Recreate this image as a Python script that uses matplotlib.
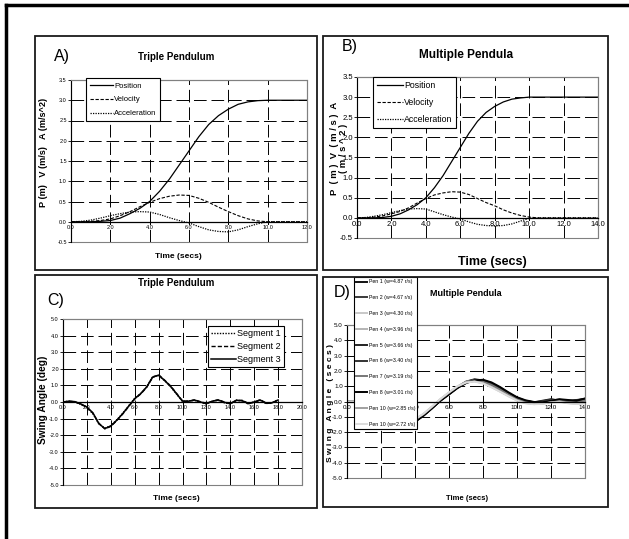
import matplotlib
matplotlib.use('Agg')
import matplotlib.pyplot as plt
import matplotlib.ticker as mticker
from matplotlib.patches import Rectangle
from matplotlib.lines import Line2D

# ---- data ----
t_a = [0, 0.5, 1, 1.5, 2, 2.5, 3, 3.5, 4, 4.5, 5, 5.5, 6, 6.5, 7, 7.5, 8, 8.5, 9, 9.5,
       10, 10.5, 11, 11.5, 12]
pos_a = [0, 0.0, 0.0, 0.01, 0.03, 0.09, 0.2, 0.33, 0.5, 0.75, 1.05, 1.4, 1.75, 2.1, 2.4,
         2.62, 2.78, 2.9, 2.96, 2.99, 3.0, 3.0, 3.0, 3.0, 3.0]
vel_a = [0, 0.0, 0.01, 0.03, 0.07, 0.15, 0.25, 0.37, 0.48, 0.57, 0.63, 0.66, 0.65, 0.58,
         0.48, 0.36, 0.25, 0.15, 0.07, 0.02, 0.0, 0.0, 0.0, 0.0, 0.0]
acc_a = [0, 0.01, 0.04, 0.09, 0.15, 0.2, 0.24, 0.25, 0.24, 0.18, 0.1, 0.03, -0.03, -0.12,
         -0.2, -0.24, -0.25, -0.2, -0.12, -0.05, 0.0, 0.0, 0.0, 0.0, 0.0]

t_b = [0, 0.5, 1, 1.5, 2, 2.5, 3, 3.5, 4, 4.5, 5, 5.5, 6, 6.5, 7, 7.5, 8, 8.5, 9, 9.5,
       10, 10.5, 11, 11.5, 12, 12.5, 13, 13.5, 14]
pos_b = [0, 0.0, 0.0, 0.01, 0.04, 0.1, 0.2, 0.33, 0.5, 0.75, 1.05, 1.4, 1.75, 2.1, 2.4,
         2.62, 2.77, 2.88, 2.95, 2.98, 3.0, 3.0, 3.0, 3.0, 3.0, 3.0, 3.0, 3.0, 3.0]
vel_b = [0, 0.0, 0.02, 0.05, 0.1, 0.16, 0.25, 0.37, 0.48, 0.57, 0.62, 0.65, 0.64, 0.58,
         0.48, 0.38, 0.3, 0.2, 0.12, 0.06, 0.02, 0.0, 0.0, 0.0, 0.0, 0.0, 0.0, 0.0, 0.0]
acc_b = [0, 0.01, 0.04, 0.08, 0.13, 0.18, 0.22, 0.23, 0.22, 0.15, 0.08, 0.02, -0.03, -0.1,
         -0.16, -0.19, -0.2, -0.19, -0.15, -0.08, -0.01, 0.0, 0.0, 0.0, 0.0, 0.0, 0.0, 0.0, 0.0]

t_c = [0, 0.5, 1, 1.5, 2, 2.5, 3, 3.5, 4, 4.5, 5, 5.5, 6, 6.5, 7, 7.5, 8, 8.5, 9, 9.5,
       10, 10.5, 11, 11.5, 12, 12.5, 13, 13.5, 14, 14.5, 15, 15.5, 16, 16.5, 17, 17.5, 18]
seg1 = [0, 0.04, 0.0, -0.15, -0.35, -0.7, -1.32, -1.58, -1.42, -1.08,
        -0.68, -0.22, 0.22, 0.52, 0.92, 1.52, 1.6, 1.28, 0.92, 0.48,
        0.04, 0.06, 0.1, -0.02, -0.12, 0.06, 0.1, -0.05, -0.12, 0.12,
        0.06, -0.12, 0.02, 0.1, -0.1, -0.03, 0.1]
seg2 = [0, 0.05, 0.01, -0.13, -0.32, -0.68, -1.28, -1.62, -1.47, -1.12,
        -0.72, -0.27, 0.18, 0.48, 0.88, 1.48, 1.64, 1.32, 0.97, 0.52,
        0.06, 0.03, 0.13, 0.02, -0.08, 0.04, 0.14, 0.0, -0.08, 0.08,
        0.1, -0.08, -0.02, 0.14, -0.06, -0.07, 0.14]
seg3 = [0, 0.05, 0.02, -0.12, -0.3, -0.65, -1.3, -1.6, -1.45, -1.1,
        -0.7, -0.25, 0.2, 0.5, 0.9, 1.5, 1.62, 1.3, 0.95, 0.5,
        0.05, 0.05, 0.12, 0.0, -0.1, 0.05, 0.12, -0.02, -0.1, 0.1,
        0.08, -0.1, 0.0, 0.12, -0.08, -0.05, 0.12]

t_d = t_b
pen_labels = ['Pen 1 (w=4.87 r/s)', 'Pen 2 (w=4.67 r/s)', 'Pen 3 (w=4.30 r/s)',
              'Pen 4 (w=3.96 r/s)', 'Pen 5 (w=3.66 r/s)', 'Pen 6 (w=3.40 r/s)',
              'Pen 7 (w=3.19 r/s)', 'Pen 8 (w=3.01 r/s)', 'Pen 10 (w=2.85 r/s)',
              'Pen 10 (w=2.72 r/s)']
pen_colors = ['#111111', '#3a3a3a', '#c8c8c8', '#b4b4b4', '#222222', '#333333',
              '#777777', '#000000', '#a0a0a0', '#dcdcdc']
pen1 = [0, 0.02, -0.05, -0.3, -0.6, -0.95, -1.25, -1.4, -1.3, -0.9,
        -0.42, 0.08, 0.5, 0.95, 1.3, 1.45, 1.38, 1.15, 0.85, 0.5,
        0.2, 0.02, -0.05, 0.05, 0.15, 0.05, -0.05, 0.1, 0.15]
pen2 = [0, 0.02, -0.06, -0.28, -0.58, -0.92, -1.22, -1.38, -1.28, -0.88,
        -0.4, 0.1, 0.52, 0.92, 1.28, 1.42, 1.35, 1.12, 0.82, 0.48,
        0.18, 0.0, -0.08, 0.0, 0.12, 0.08, -0.02, 0.05, 0.12]
pen3 = [0, 0.02, -0.04, -0.25, -0.55, -0.9, -1.18, -1.32, -1.22, -0.85,
        -0.38, 0.12, 0.55, 0.95, 1.28, 1.38, 1.25, 1.0, 0.72, 0.42,
        0.12, -0.05, -0.12, -0.1, 0.0, 0.05, -0.05, -0.1, -0.05]
pen4 = [0, 0.01, -0.04, -0.24, -0.53, -0.88, -1.16, -1.3, -1.2, -0.83,
        -0.36, 0.14, 0.57, 0.97, 1.27, 1.35, 1.22, 0.97, 0.7, 0.4,
        0.1, -0.08, -0.15, -0.12, -0.02, 0.02, -0.08, -0.12, -0.08]
pen5 = [0, 0.02, -0.06, -0.3, -0.62, -0.97, -1.27, -1.42, -1.32, -0.92,
        -0.44, 0.06, 0.48, 0.9, 1.22, 1.4, 1.4, 1.2, 0.9, 0.55,
        0.25, 0.05, -0.05, -0.02, 0.08, 0.12, 0.05, 0.08, 0.18]
pen6 = [0, 0.02, -0.05, -0.29, -0.6, -0.95, -1.25, -1.4, -1.3, -0.9,
        -0.43, 0.07, 0.49, 0.91, 1.24, 1.42, 1.38, 1.17, 0.88, 0.52,
        0.22, 0.03, -0.06, 0.02, 0.1, 0.1, 0.0, 0.06, 0.14]
pen7 = [0, 0.02, -0.05, -0.27, -0.57, -0.92, -1.2, -1.35, -1.25, -0.87,
        -0.39, 0.11, 0.53, 0.93, 1.26, 1.38, 1.3, 1.08, 0.78, 0.45,
        0.15, -0.03, -0.1, -0.05, 0.05, 0.06, -0.04, -0.02, 0.05]
pen8 = [0, 0.02, -0.06, -0.31, -0.63, -0.98, -1.28, -1.43, -1.33, -0.93,
        -0.45, 0.05, 0.46, 0.88, 1.2, 1.38, 1.42, 1.25, 0.95, 0.6,
        0.28, 0.08, -0.03, -0.05, 0.05, 0.15, 0.1, 0.05, 0.2]
pen9 = [0, 0.01, -0.04, -0.23, -0.52, -0.86, -1.14, -1.28, -1.18, -0.82,
        -0.35, 0.15, 0.58, 0.98, 1.25, 1.32, 1.2, 0.95, 0.66, 0.36,
        0.08, -0.1, -0.17, -0.14, -0.05, 0.0, -0.1, -0.15, -0.1]
pen10 = [0, 0.01, -0.04, -0.22, -0.5, -0.84, -1.12, -1.26, -1.16, -0.8,
         -0.33, 0.17, 0.6, 1.0, 1.24, 1.3, 1.18, 0.93, 0.64, 0.34,
         0.06, -0.12, -0.18, -0.15, -0.06, -0.02, -0.12, -0.16, -0.12]
pens = [pen1, pen2, pen3, pen4, pen5, pen6, pen7, pen8, pen9, pen10]

# ---- figure ----
W, H = 629, 539
fig = plt.figure(figsize=(W / 100, H / 100), dpi=100)
sans = ['Liberation Sans', 'DejaVu Sans']
dash = (0, (13, 5))


def px_axes(l, t, r, b):
    return fig.add_axes([l / W, 1 - b / H, (r - l) / W, (b - t) / H])


def ftext(x, y, s, **kw):
    kw.setdefault('ha', 'center')
    kw.setdefault('va', 'center')
    kw.setdefault('family', sans)
    fig.text(x / W, 1 - y / H, s, **kw)


def box(l, t, r, b):
    fig.add_artist(Rectangle((l / W, 1 - b / H), (r - l) / W, (b - t) / H,
                             transform=fig.transFigure, fill=False,
                             ec='#1a1a1a', lw=1.3))


def style(ax, xmax, xstep, ymin, ymax, ystep, fs):
    ax.set_xlim(0, xmax)
    ax.set_ylim(ymin, ymax)
    ax.xaxis.set_major_locator(mticker.MultipleLocator(xstep))
    ax.yaxis.set_major_locator(mticker.MultipleLocator(ystep))
    ax.xaxis.set_major_formatter(mticker.FormatStrFormatter('%.1f'))
    ax.yaxis.set_major_formatter(mticker.FormatStrFormatter('%.1f'))
    ax.grid(True, color='k', lw=0.7, ls=dash)
    ax.spines['bottom'].set_position(('data', 0))
    ax.spines['bottom'].set_linewidth(0.9)
    ax.spines['left'].set_linewidth(0.8)
    for s in ['top', 'right']:
        ax.spines[s].set_color('#808080')
    ax.add_patch(Rectangle((0, 0), 1, 1, transform=ax.transAxes, fill=False,
                           ec='#808080', lw=0.8, clip_on=False, zorder=0.5))
    ax.tick_params(axis='x', direction='inout', length=3, width=0.6, pad=1,
                   labelsize=fs)
    ax.tick_params(axis='y', direction='out', length=2, width=0.6, pad=1,
                   labelsize=fs)
    for lab in ax.get_xticklabels() + ax.get_yticklabels():
        lab.set_family(sans)


def legend(ax, x, y, size, **kw):
    leg = ax.legend(loc='upper left', bbox_to_anchor=(x / W, 1 - y / H),
                    bbox_transform=fig.transFigure, fancybox=False,
                    edgecolor='k', framealpha=1,
                    prop={'family': sans, 'size': size}, borderaxespad=0, **kw)
    leg.get_frame().set_linewidth(0.8)


# outer frame
fig.add_artist(Line2D([6 / W, 6 / W], [0, 1 - 5 / H], lw=2.5, color='k'))
fig.add_artist(Line2D([6 / W, 1], [1 - 5 / H, 1 - 5 / H], lw=2.5, color='k'))

# panel boxes
box(35, 36, 317, 270)
box(323, 36, 608, 270)
box(35, 275, 317, 508)
box(323, 277, 608, 507)

# ---- A ----
ax = px_axes(71, 80, 307, 242)
style(ax, 12, 2, -0.5, 3.5, 0.5, 4)
ax.plot(t_a, pos_a, color='k', lw=0.9, label='Position')
ax.plot(t_a, vel_a, color='k', lw=0.8, ls=(0, (3, 1.5)), label='Velocity')
ax.plot(t_a, acc_a, color='k', lw=0.9, ls=(0, (1, 1)), label='Acceleration')
legend(ax, 86, 78, 5.5, handlelength=3.0, handletextpad=0.1,
       labelspacing=0.85, borderpad=0.55)
ftext(62, 56, 'A)', fontsize=11.5)
ftext(176, 57, 'Triple Pendulum', fontsize=7, weight='bold')
ftext(43, 152, 'P (m)   V (m/s)   A (m/s^2)', fontsize=6.6,
      weight='bold', rotation=90)
ftext(178, 257, 'Time (secs)', fontsize=6, weight='bold')

# ---- B ----
ax = px_axes(357, 77, 598, 238)
style(ax, 14, 2, -0.5, 3.5, 0.5, 5.5)
ax.plot(t_b, pos_b, color='k', lw=0.9, label='Position')
ax.plot(t_b, vel_b, color='k', lw=0.8, ls=(0, (3, 1.5)), label='Velocity')
ax.plot(t_b, acc_b, color='k', lw=0.9, ls=(0, (1, 1)), label='Acceleration')
legend(ax, 373, 77, 6.3, handlelength=3.0, handletextpad=0.1,
       labelspacing=0.9, borderpad=0.45)
ftext(350, 46, 'B)', fontsize=11.5)
ftext(466, 55, 'Multiple Pendula', fontsize=8.5, weight='bold')
ftext(339, 148, 'P  ( m )  V  ( m / s )  A\n( m / s ^ 2 )', fontsize=6.8,
      weight='bold', rotation=90, linespacing=0.95, multialignment='center')
ftext(492, 262, 'Time (secs)', fontsize=9, weight='bold')

# ---- C ----
ax = px_axes(63, 319, 302, 485)
style(ax, 20, 2, -5, 5, 1, 4)
ax.plot(t_c, seg1, color='k', lw=1.0, ls=(0, (1, 1)), label='Segment 1')
ax.plot(t_c, seg2, color='k', lw=1.0, ls=(0, (3, 1.5)), label='Segment 2')
ax.plot(t_c, seg3, color='k', lw=1.1, label='Segment 3')
legend(ax, 208, 326, 6.5, handlelength=2.8, handletextpad=0.1,
       labelspacing=0.45, borderpad=0.35)
ftext(56, 300, 'C)', fontsize=11.5)
ftext(176, 283, 'Triple Pendulum', fontsize=7, weight='bold')
ftext(43, 400, 'Swing Angle (deg)', fontsize=7.3, weight='bold', rotation=90)
ftext(176, 499, 'Time (secs)', fontsize=6, weight='bold')

# ---- D ----
ax = px_axes(347, 325, 585, 478)
style(ax, 14, 2, -5, 5, 1, 4.5)
for ys, c, lab in zip(pens, pen_colors, pen_labels):
    ax.plot(t_d, ys, color=c, lw=1.4, label=lab)
legend(ax, 354, 277, 3.8, handlelength=2.0, handletextpad=0.3,
       labelspacing=2.05, borderpad=0.45)
ftext(342, 292, 'D)', fontsize=11.5)
ftext(466, 294, 'Multiple Pendula', fontsize=6.5, weight='bold')
ftext(330, 403, 'S w i n g   A n g l e   ( s e c s )', fontsize=6,
      weight='bold', rotation=90)
ftext(467, 498, 'Time (secs)', fontsize=5.5, weight='bold')

fig.savefig('out.png', dpi=100)
